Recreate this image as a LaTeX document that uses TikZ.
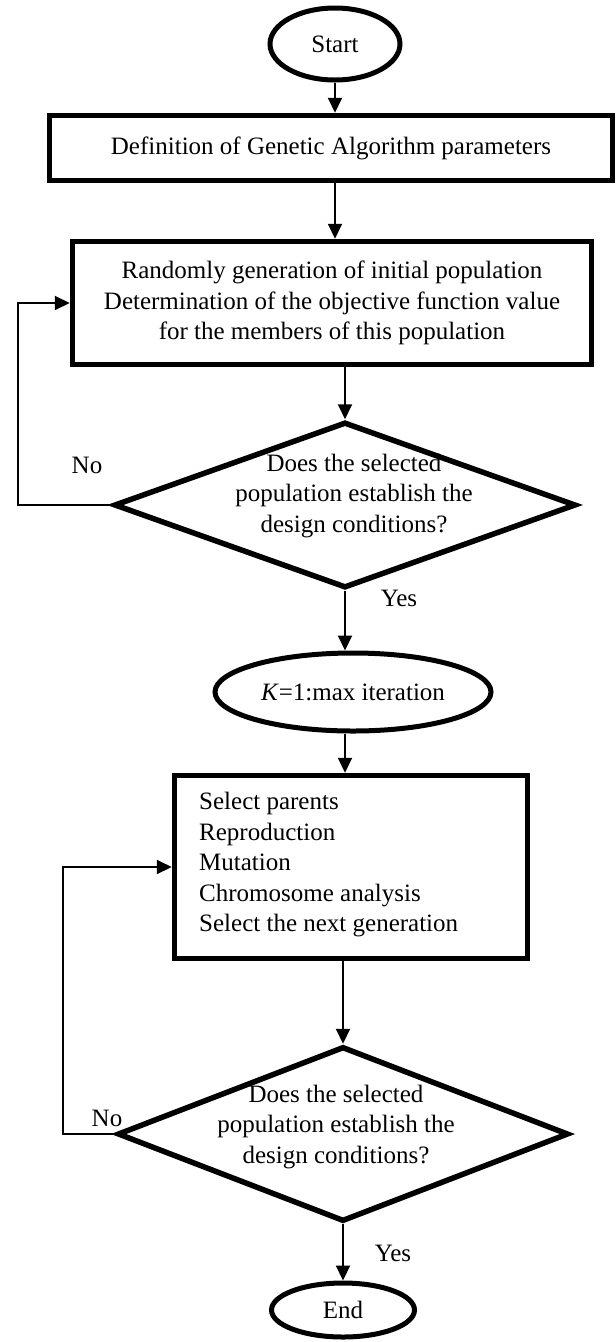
\documentclass[tikz,border=0pt]{standalone}
\usepackage{fontspec}
\setmainfont{Liberation Serif}
\usetikzlibrary{shapes.geometric,arrows.meta}
\begin{document}
\begin{tikzpicture}[x=1pt,y=-1pt,
  txt/.style={font=\fontsize{25}{30.5}\selectfont, inner sep=0pt},
  thickline/.style={draw, line width=5.5pt, inner sep=0pt},
  proc/.style={thickline, rectangle},
  term/.style={thickline, ellipse, line width=5pt, txt},
  dec/.style={thickline, diamond},
  arr/.style={line width=2pt, -{Triangle[length=15pt,width=14pt]}},
  ]
\useasboundingbox[fill=white] (0,0) rectangle (616,1342);

\node[term, minimum width=130pt, minimum height=72pt] (start) at (335,44) {Start};
\node[proc, txt, minimum width=563pt, minimum height=65pt] (b1) at (331,148) {Definition of Genetic Algorithm parameters};
\node[proc, txt, align=center, minimum width=519pt, minimum height=123pt] (b2) at (332,303)
  {Randomly generation of initial population\\Determination of the objective function value\\for the members of this population};
\node[dec, minimum width=462pt, minimum height=166pt] (d1) at (345,505) {};
\node[txt, align=center] (d1t) at (354,496) {Does the selected\\population establish the\\design conditions?};
\node[term, minimum width=276pt, minimum height=78pt] (k) at (353,692) {\textit{K}=1:max iteration};
\node[proc, minimum width=353pt, minimum height=183pt] (b3) at (351,867) {};
\node[txt, align=left, anchor=west] (b3t) at (199,865) {Select parents\\Reproduction\\Mutation\\Chromosome analysis\\Select the next generation};
\node[dec, minimum width=451pt, minimum height=175pt] (d2) at (343,1134) {};
\node[txt, align=center] (d2t) at (336,1127) {Does the selected\\population establish the\\design conditions?};
\node[term, minimum width=143pt, minimum height=54pt] (end) at (343,1310) {End};

\node[txt] (no1) at (87,465) {No};
\node[txt] (yes1) at (399,598) {Yes};
\node[txt] (no2) at (107,1118) {No};
\node[txt] (yes2) at (393,1253) {Yes};

\draw[arr] (start.south) -- (start.south |- b1.north);
\draw[arr] (start.south |- b1.south) -- (start.south |- b2.north);
\draw[arr] (d1.north |- b2.south) -- (d1.north);
\draw[arr] (d1.south) -- (d1.south |- k.north);
\draw[arr] (d1.south |- k.south) -- (d1.south |- b3.north);
\draw[arr] (d2.north |- b3.south) -- (d2.north);
\draw[arr] (d2.south) -- (end.north);

\coordinate (l1) at (18,505);
\draw[arr] (d1.west) -- (l1) |- (b2.west);
\coordinate (l2) at (63,1134);
\draw[arr] (d2.west) -- (l2) |- (b3.west);
\end{tikzpicture}
\end{document}
